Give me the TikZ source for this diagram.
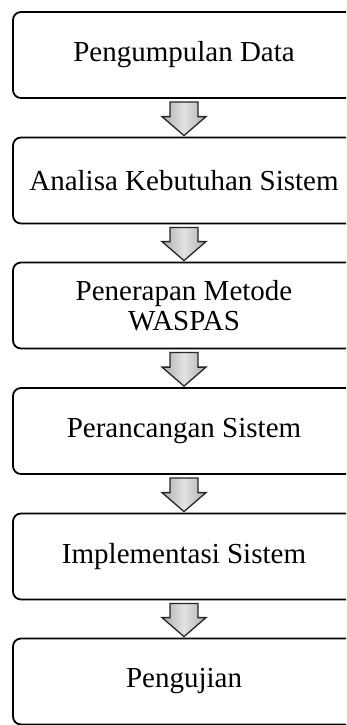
\documentclass[tikz,border=0pt]{standalone}
\usepackage{fontspec}
\setmainfont{Liberation Serif}
\usetikzlibrary{calc}
\tikzset{
  stepbox/.style={draw=black, line width=1.8pt, rounded corners=8pt,
    minimum width=342pt, minimum height=86pt, inner sep=0pt,
    align=center, font=\fontsize{29}{29.5}\selectfont},
  flowarrow/.style={draw=black!85, line width=1.3pt, line join=miter,
    left color=gray!65, right color=gray!65, middle color=gray!22}
}
\begin{document}
\begin{tikzpicture}[x=1pt,y=-1pt]
  \useasboundingbox (0,0) rectangle (346,725);
  \clip (0,0) rectangle (346,725);
  \node[stepbox] (b1) at (184,55)    {Pengumpulan Data};
  \node[stepbox] (b2) at (184,180.5) {Analisa Kebutuhan Sistem};
  \node[stepbox] (b3) at (184,305.5) {Penerapan Metode\\WASPAS};
  \node[stepbox] (b4) at (184,431)   {Perancangan Sistem};
  \node[stepbox] (b5) at (184,556.5) {Implementasi Sistem};
  \node[stepbox] (b6) at (184,681.5) {Pengujian};
  % block arrows between consecutive steps (let-coordinates are in plain pt, y up)
  \foreach \a/\b in {b1/b2,b2/b3,b3/b4,b4/b5,b5/b6}{
    \path[flowarrow]
      let \p1=(\a.south), \p2=(\b.north) in
      (\x1-14pt,\y1-3pt) -- (\x1+14pt,\y1-3pt) -- (\x1+14pt,\y2+20pt)
      -- (\x1+22pt,\y2+20pt) -- (\x1,\y2+1pt) -- (\x1-22pt,\y2+20pt)
      -- (\x1-14pt,\y2+20pt) -- cycle;
  }
\end{tikzpicture}
\end{document}
